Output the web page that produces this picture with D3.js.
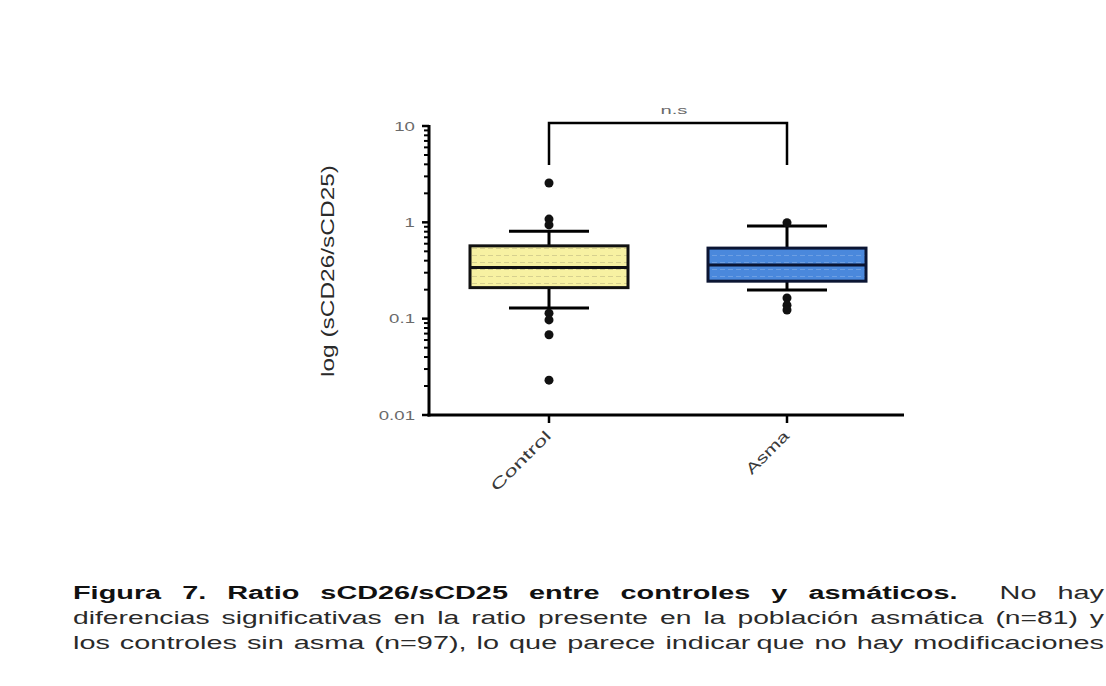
<!DOCTYPE html>
<html>
<head>
<meta charset="utf-8">
<script src="https://cdn.jsdelivr.net/npm/d3@7"></script>
<style>
    body { margin: 0; background: #fff; }
    svg { display: block; font-family: "Liberation Sans", Arial, sans-serif; }
</style>
</head>
<body>
<div id="chart"></div>
<script>

// values (log scale)
const categories = ["Control", "Asma"];
const whiskerLow = [0.129, 0.198];
const quart1 = [0.21, 0.245];
const medians = [0.34, 0.36];
const quart3 = [0.57, 0.54];
const whiskerHigh = [0.81, 0.916];
const outliers = [
    [2.56, 1.08, 0.94, 0.114, 0.097, 0.068, 0.023],
    [0.99, 0.164, 0.138, 0.123]
];
const yTicks = [0.01, 0.1, 1, 10];
const yTickLabels = ["0.01", "0.1", "1", "10"];
const yLabel = "log (sCD26/sCD25)";
const sigLabel = "n.s";
const boxFills = ["#f7f1a2", "#4a88dc"];
const boxStrokes = ["#111", "#0b1533"];

// caption, words per line: [ text, bold, weight of the space before ]
const captionLines = [
    [["Figura",1,0],["7.",1,1],["Ratio",1,1],["sCD26/sCD25",1,1],["entre",1,1],["controles",1,1],["y",1,1],["asmáticos.",1,1],["No",0,2],["hay",0,1]],
    [["diferencias",0,0],["significativas",0,1],["en",0,1],["la",0,1],["ratio",0,1],["presente",0,1],["en",0,1],["la",0,1],["población",0,1],["asmática",0,1],["(n=81)",0,1],["y",0,1]],
    [["los",0,0],["controles",0,1],["sin",0,1],["asma",0,1],["(n=97),",0,1],["lo",0,1],["que",0,1],["parece",0,1],["indicar",0,1],["que",0,0.6],["no",0,1],["hay",0,1],["modificaciones",0,1]]
];

var svgWidth = 1106, svgHeight = 686;

var svg = d3.select("#chart").append("svg")
    .attr("width", svgWidth)
    .attr("height", svgHeight);

// stretch a text node horizontally (the figure was scanned wide)
function stretch( sel, k ) {
    sel.each( function() {
        var w = this.getComputedTextLength();
        d3.select(this)
            .attr("textLength", w * k)
            .attr("lengthAdjust", "spacingAndGlyphs");
    });
}

var defs = svg.append("defs");
function dotted( id, bg, fg ) {
    var p = defs.append("pattern")
        .attr("id", id)
        .attr("patternUnits", "userSpaceOnUse")
        .attr("width", 8)
        .attr("height", 7);
    p.append("rect").attr("width", 8).attr("height", 7).attr("fill", bg);
    p.append("rect").attr("x", 0).attr("y", 3).attr("width", 5).attr("height", 1).attr("fill", fg);
}
dotted("fill0", boxFills[0], "#d6d08f");
dotted("fill1", boxFills[1], "#6d9fe3");

var xscale = d3.scalePoint()
    .domain( categories )
    .range( [430, 906] )
    .padding( 0.5 );

var yscale = d3.scaleLog()
    .domain( [0.01, 10] )
    .range( [415, 126] );

var axisX0 = 429, axisY0 = 415;

// y axis
var gY = svg.append("g");
gY.append("line")
    .attr("x1", axisX0).attr("x2", axisX0)
    .attr("y1", yscale(10) - 1).attr("y2", axisY0 + 1.5)
    .attr("stroke", "#000").attr("stroke-width", 3);

var minor = [];
yTicks.slice(0, -1).forEach( t => {
    for ( let k = 2; k < 10; k++ ) minor.push( t * k );
});
gY.selectAll(".minor").data( minor ).enter()
    .append("line")
    .attr("class", "minor")
    .attr("x1", axisX0 - 5).attr("x2", axisX0)
    .attr("y1", d => yscale(d)).attr("y2", d => yscale(d))
    .attr("stroke", "#000").attr("stroke-width", 2);
gY.selectAll(".major").data( yTicks ).enter()
    .append("line")
    .attr("class", "major")
    .attr("x1", axisX0 - 7).attr("x2", axisX0)
    .attr("y1", d => yscale(d)).attr("y2", d => yscale(d))
    .attr("stroke", "#000").attr("stroke-width", 2.5);
gY.selectAll(".tlab").data( yTicks ).enter()
    .append("text")
    .attr("class", "tlab")
    .attr("x", axisX0 - 14)
    .attr("y", d => yscale(d) + 4.5)
    .attr("text-anchor", "end")
    .attr("fill", "#6a6a6a")
    .style("font-size", "12px")
    .text( (d, i) => yTickLabels[i] )
    .call( stretch, 1.55 );

svg.append("text")
    .attr("transform", "translate(334,271) rotate(-90)")
    .attr("text-anchor", "middle")
    .attr("fill", "#2a2a2a")
    .style("font-size", "18px")
    .attr("textLength", 212)
    .attr("lengthAdjust", "spacingAndGlyphs")
    .text( yLabel );

// x axis
var gX = svg.append("g");
gX.append("line")
    .attr("x1", axisX0 - 1.5).attr("x2", 904)
    .attr("y1", axisY0).attr("y2", axisY0)
    .attr("stroke", "#000").attr("stroke-width", 3);
gX.selectAll(".xt").data( categories ).enter()
    .append("line")
    .attr("class", "xt")
    .attr("x1", d => xscale(d)).attr("x2", d => xscale(d))
    .attr("y1", axisY0).attr("y2", axisY0 + 8)
    .attr("stroke", "#000").attr("stroke-width", 2.5);
gX.selectAll(".xl").data( categories ).enter()
    .append("text")
    .attr("class", "xl")
    .attr("transform", d => "translate(" + (xscale(d) + 3) + "," + (axisY0 + 22) + ") rotate(-45)")
    .attr("text-anchor", "end")
    .attr("fill", "#3a3a3a")
    .style("font-size", "15px")
    .attr("textLength", (d, i) => i == 0 ? 78 : 54)
    .attr("lengthAdjust", "spacingAndGlyphs")
    .text( d => d );

// boxes
var boxWidth = 158, capWidth = 80;
var boxes = svg.selectAll(".box").data( categories ).enter()
    .append("g")
    .attr("class", "box");

boxes.append("line")
    .attr("x1", d => xscale(d)).attr("x2", d => xscale(d))
    .attr("y1", (d, i) => yscale( whiskerHigh[i] ))
    .attr("y2", (d, i) => yscale( whiskerLow[i] ))
    .attr("stroke", "#000").attr("stroke-width", 3);
boxes.selectAll(".cap").data( (d, i) => [whiskerLow[i], whiskerHigh[i]].map( v => ({ c: d, v: v }) ) ).enter()
    .append("line")
    .attr("class", "cap")
    .attr("x1", d => xscale(d.c) - capWidth / 2).attr("x2", d => xscale(d.c) + capWidth / 2)
    .attr("y1", d => yscale(d.v)).attr("y2", d => yscale(d.v))
    .attr("stroke", "#000").attr("stroke-width", 3);
boxes.append("rect")
    .attr("x", d => xscale(d) - boxWidth / 2)
    .attr("width", boxWidth)
    .attr("y", (d, i) => yscale( quart3[i] ))
    .attr("height", (d, i) => yscale( quart1[i] ) - yscale( quart3[i] ))
    .attr("fill", (d, i) => "url(#fill" + i + ")")
    .attr("stroke", (d, i) => boxStrokes[i])
    .attr("stroke-width", 3);
boxes.append("line")
    .attr("x1", d => xscale(d) - boxWidth / 2).attr("x2", d => xscale(d) + boxWidth / 2)
    .attr("y1", (d, i) => yscale( medians[i] )).attr("y2", (d, i) => yscale( medians[i] ))
    .attr("stroke", (d, i) => boxStrokes[i]).attr("stroke-width", 3);

boxes.selectAll(".point").data( (d, i) => outliers[i].map( v => ({ c: d, v: v }) ) ).enter()
    .append("circle")
    .attr("class", "point")
    .attr("cx", d => xscale(d.c))
    .attr("cy", d => yscale(d.v))
    .attr("r", 4.5)
    .attr("fill", "#111");

// significance bracket
var brY = yscale(10) - 3, brDrop = 42;
svg.append("path")
    .attr("d", "M" + xscale(categories[0]) + "," + (brY + brDrop) +
               "V" + brY + "H" + xscale(categories[1]) + "V" + (brY + brDrop))
    .attr("fill", "none")
    .attr("stroke", "#000")
    .attr("stroke-width", 2.5);
svg.append("text")
    .attr("x", (xscale(categories[0]) + xscale(categories[1])) / 2 + 6)
    .attr("y", brY - 9)
    .attr("text-anchor", "middle")
    .attr("fill", "#6a6a6a")
    .style("font-size", "11px")
    .attr("textLength", 27)
    .attr("lengthAdjust", "spacingAndGlyphs")
    .text( sigLabel );

// caption, stretched words justified between two edges
var capX0 = 73, capX1 = 1104, capY = [599, 624, 649], capGap = [21, 12, 10];
captionLines.forEach( (words, li) => {
    var g = svg.append("g");
    var nodes = words.map( w => g.append("text")
        .attr("y", capY[li])
        .attr("fill", w[1] ? "#111" : "#2a2a2a")
        .style("font-size", "18px")
        .style("font-weight", w[1] ? "bold" : "normal")
        .text( w[0] ) );
    var widths = nodes.map( n => n.node().getComputedTextLength() );
    var weights = d3.sum( words, w => w[2] );
    var k = ( capX1 - capX0 - capGap[li] * weights ) / d3.sum( widths );
    var x = capX0;
    nodes.forEach( (n, i) => {
        x += words[i][2] * capGap[li];
        n.attr("x", x)
            .attr("textLength", widths[i] * k)
            .attr("lengthAdjust", "spacingAndGlyphs");
        x += widths[i] * k;
    });
});

</script>
</body>
</html>
